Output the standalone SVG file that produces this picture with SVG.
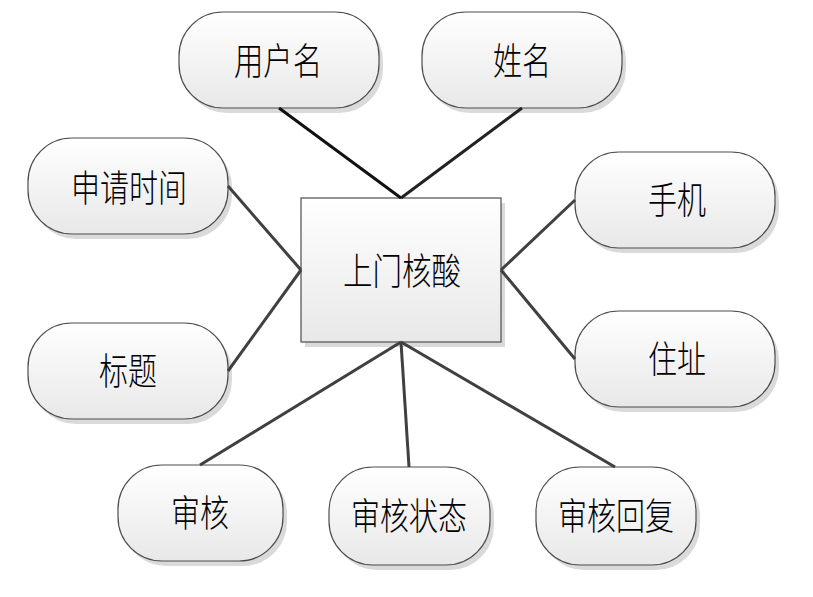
<svg xmlns="http://www.w3.org/2000/svg" width="813" height="597" viewBox="0 0 813 597">
<defs>
<linearGradient id="g" x1="0" y1="0" x2="0" y2="1">
<stop offset="0" stop-color="#ffffff"/>
<stop offset="1" stop-color="#e8e8e8"/>
</linearGradient>
<style>
.sh{fill:#dadada;stroke:none}
.n{fill:url(#g);stroke:#4d4d4d;stroke-width:1.2}
.t{font-family:"Noto Sans CJK SC","Noto Sans CJK JP",sans-serif;font-size:37px;font-weight:300;fill:#000;text-anchor:middle}
.c line{stroke:#404040;stroke-width:3;stroke-linecap:butt}
</style>
</defs>
<rect width="813" height="597" fill="#fff"/>
<g id="center">
<rect class="sh" x="305" y="203" width="200" height="144"/>
<rect class="n" x="301" y="198" width="200" height="144"/>
<text class="t" x="402" y="285" textLength="118" lengthAdjust="spacingAndGlyphs">上门核酸</text>
</g>
<g id="n-username">
<rect class="sh" x="183" y="17" width="200" height="96" rx="44"/>
<rect class="n" x="179" y="12" width="200" height="96" rx="44"/>
<text class="t" x="278" y="75" textLength="88" lengthAdjust="spacingAndGlyphs">用户名</text>
</g>
<g id="n-name">
<rect class="sh" x="426" y="17" width="200" height="96" rx="44"/>
<rect class="n" x="422" y="12" width="200" height="96" rx="44"/>
<text class="t" x="522" y="75" textLength="58" lengthAdjust="spacingAndGlyphs">姓名</text>
</g>
<g id="n-time">
<rect class="sh" x="32" y="143" width="200" height="96" rx="44"/>
<rect class="n" x="28" y="138" width="200" height="96" rx="44"/>
<text class="t" x="129" y="202" textLength="116" lengthAdjust="spacingAndGlyphs">申请时间</text>
</g>
<g id="n-phone">
<rect class="sh" x="579" y="157" width="200" height="96" rx="44"/>
<rect class="n" x="575" y="152" width="200" height="96" rx="44"/>
<text class="t" x="677" y="214" textLength="58" lengthAdjust="spacingAndGlyphs">手机</text>
</g>
<g id="n-title">
<rect class="sh" x="32" y="328" width="200" height="96" rx="44"/>
<rect class="n" x="28" y="323" width="200" height="96" rx="44"/>
<text class="t" x="128" y="385" textLength="58" lengthAdjust="spacingAndGlyphs">标题</text>
</g>
<g id="n-address">
<rect class="sh" x="579" y="316" width="200" height="96" rx="44"/>
<rect class="n" x="575" y="311" width="200" height="96" rx="44"/>
<text class="t" x="677" y="373" textLength="58" lengthAdjust="spacingAndGlyphs">住址</text>
</g>
<g id="n-review">
<rect class="sh" x="122" y="470" width="165" height="96" rx="44"/>
<rect class="n" x="118" y="465" width="165" height="96" rx="44"/>
<text class="t" x="200" y="527" textLength="58" lengthAdjust="spacingAndGlyphs">审核</text>
</g>
<g id="n-status">
<rect class="sh" x="333" y="472" width="161" height="98" rx="44"/>
<rect class="n" x="329" y="467" width="161" height="98" rx="44"/>
<text class="t" x="409" y="530" textLength="116" lengthAdjust="spacingAndGlyphs">审核状态</text>
</g>
<g id="n-reply">
<rect class="sh" x="540" y="472" width="160" height="98" rx="44"/>
<rect class="n" x="536" y="467" width="160" height="98" rx="44"/>
<text class="t" x="616" y="530" textLength="116" lengthAdjust="spacingAndGlyphs">审核回复</text>
</g>
<g class="c" id="connectors">
<line x1="279" y1="108" x2="401" y2="198" style="stroke:#111"/>
<line x1="522" y1="108" x2="401" y2="198" style="stroke:#222"/>
<line x1="228" y1="186" x2="301" y2="270"/>
<line x1="228" y1="371" x2="301" y2="270"/>
<line x1="575" y1="200" x2="501" y2="270"/>
<line x1="575" y1="359" x2="501" y2="270"/>
<line x1="200" y1="465" x2="401" y2="342"/>
<line x1="409" y1="467" x2="401" y2="342"/>
<line x1="615" y1="467" x2="401" y2="342"/>
</g>
</svg>
